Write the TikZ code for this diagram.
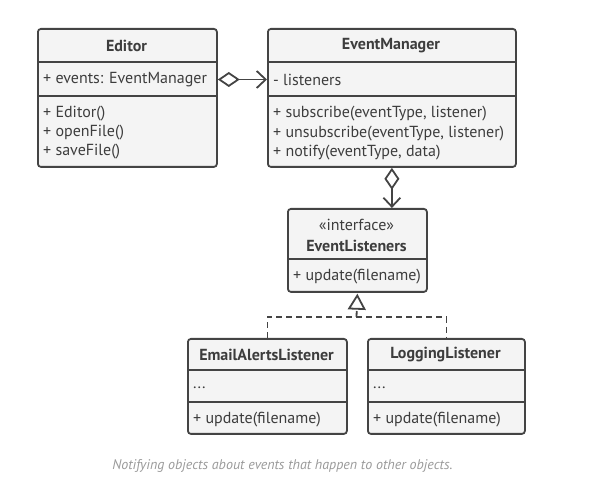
\documentclass[tikz,border=0pt]{standalone}
\usepackage{fontspec}
\setmainfont{PT Sans}
\usetikzlibrary{arrows.meta,calc}
\definecolor{ln}{HTML}{444444}
\definecolor{bx}{HTML}{F4F4F4}
\definecolor{cap}{HTML}{9A9A9A}
\tikzset{
  classbox/.style={draw=ln, fill=bx, line width=1.8pt, rounded corners=3pt, anchor=north west, inner sep=0pt},
  sep/.style={draw=ln, line width=1.8pt},
  txt/.style={anchor=west, inner sep=0pt, yshift=-1.5pt, font=\fontsize{16}{18}\selectfont, text=ln!90!black},
  ttl/.style={anchor=center, inner sep=0pt, yshift=-1pt, font=\fontsize{16}{18}\selectfont\bfseries, text=ln!90!black},
  conn/.style={draw=ln, line width=1.8pt},
  dsh/.style={draw=ln, line width=1.8pt, dash pattern=on 6pt off 4pt},
  agg/.style={conn, {Diamond[open, length=22pt, width=15pt, line width=1.8pt]}-{Straight Barb[length=9pt, width=17pt, line width=1.8pt]}},
}
\begin{document}
\begin{tikzpicture}[x=1pt,y=-1pt]
\useasboundingbox (0,0) rectangle (606,489);
% Editor
\node[classbox, minimum width=179pt, minimum height=138pt] (editor) at (37,28) {};
\draw[sep] (37,62) -- (216,62);
\draw[sep] (37,96) -- (216,96);
\node[ttl] (edt) at (126.5,45) {Editor};
\node[txt] (eattr) at (43,78) {+ events: EventManager};
\node[txt] (em1) at (43,112) {+ Editor()};
\node[txt] (em2) at (43,131) {+ openFile()};
\node[txt] (em3) at (43,150.5) {+ saveFile()};
% EventManager
\node[classbox, minimum width=248pt, minimum height=138pt] (em) at (267,28) {};
\draw[sep] (267,62) -- (515,62);
\draw[sep] (267,96) -- (515,96);
\node[ttl] (emt) at (391,45) {EventManager};
\node[txt] (emattr) at (273,78) {- listeners};
\node[txt] (emm1) at (273,112.5) {+ subscribe(eventType, listener)};
\node[txt] (emm2) at (273,132) {+ unsubscribe(eventType, listener)};
\node[txt] (emm3) at (273,151.5) {+ notify(eventType, data)};
% EventListeners
\node[classbox, minimum width=139pt, minimum height=83pt] (el) at (287,208) {};
\draw[sep] (287,259) -- (426,259);
\node[anchor=center, inner sep=0pt, yshift=-1pt, font=\fontsize{16}{18}\selectfont, text=ln!90!black] (elst) at (356.5,224) {«interface»};
\node[ttl] (elt) at (356.5,245) {EventListeners};
\node[txt] (elm) at (293,275) {+ update(filename)};
% EmailAlertsListener
\node[classbox, minimum width=159pt, minimum height=95pt] (email) at (187,338) {};
\draw[sep] (187,370) -- (346,370);
\draw[sep] (187,402) -- (346,402);
\node[ttl] (emailt) at (266.5,354) {EmailAlertsListener};
\node[txt] (emaila) at (193,386) {...};
\node[txt] (emailm) at (193,418) {+ update(filename)};
% LoggingListener
\node[classbox, minimum width=157pt, minimum height=95pt] (log) at (367,338) {};
\draw[sep] (367,370) -- (524,370);
\draw[sep] (367,402) -- (524,402);
\node[ttl] (logt) at (445.5,354) {LoggingListener};
\node[txt] (loga) at (373,386) {...};
\node[txt] (logm) at (373,418) {+ update(filename)};
% connectors
\draw[agg] (editor.east |- eattr) -- (em.west |- eattr);
\draw[agg] (em.south) -- (em.south |- el.north);
\coordinate (j) at (356.5,317);
\draw[dsh] (email.north) -- (email.north |- j) -- (log.north |- j) -- (log.north);
\draw[dsh, -{Triangle[open, length=16pt, width=18pt, line width=1.8pt, fill=white]}, shorten >=0.9pt] (j) -- (el.south);
% caption
\node[anchor=center, inner sep=0pt, font=\fontsize{14}{16}\selectfont\itshape, text=cap] (caption) at (282.5,466) {Notifying objects about events that happen to other objects.};
\end{tikzpicture}
\end{document}
